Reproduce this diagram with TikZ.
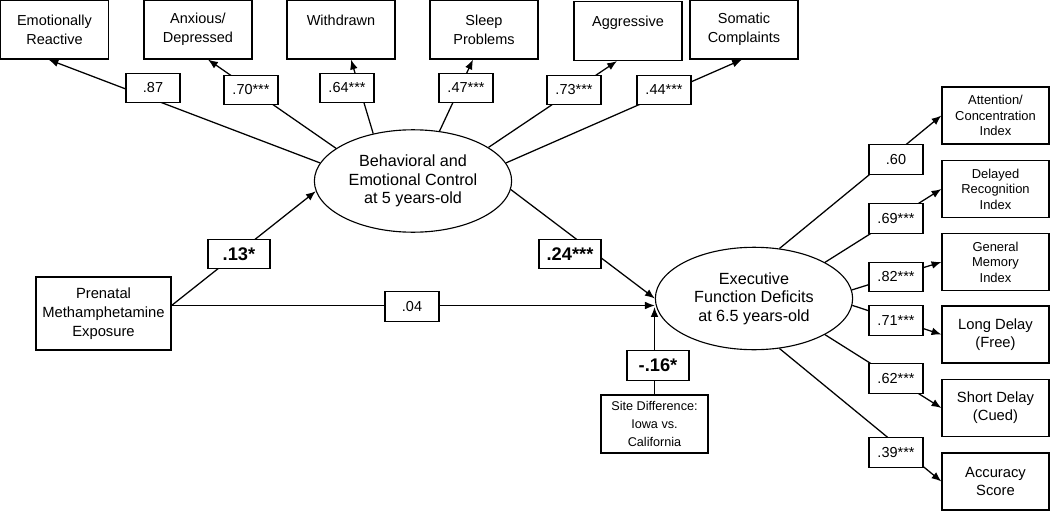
\documentclass[tikz,border=0pt]{standalone}
\usepackage{fontspec}
\setmainfont{Liberation Sans}
\usetikzlibrary{shapes, arrows.meta, calc, positioning}
\tikzstyle{line} = [draw, line width=0.9pt, -{Latex[length=7pt,width=5.5pt]}]

\begin{document}
\begin{tikzpicture}[x=0.025cm, y=-0.025cm,
          inner sep = 0pt, % text fills the box
          align = center
      ]

      \tikzstyle{subscale}=[draw, line width=0.8pt, fill=white,
          minimum width=2.7cm, minimum height=1.475cm,
          font=\fontsize{10.3}{13.3}\selectfont]
      \tikzstyle{measure}=[draw, line width=0.8pt, fill=white,
          minimum width=2.675cm, minimum height=1.425cm]
      \tikzstyle{latent}=[draw, ellipse, line width=0.8pt, fill=white,
          minimum width=4.93cm, minimum height=2.56cm,
          font=\fontsize{11.5}{13.2}\selectfont]
      \tikzstyle{coef}=[draw, line width=0.8pt, fill=white,
          minimum width=1.35cm, minimum height=0.74cm,
          font=\fontsize{10.3}{12}\selectfont]
      \tikzstyle{bcoef}=[coef, minimum width=1.55cm,
          font=\fontsize{13}{15}\selectfont\bfseries]

  \useasboundingbox (0,0) rectangle (1050,512);

  % Draw the subscales on top.
  \node[subscale] (er) at (54.5, 29.5) {Emotionally\\Reactive};
  \node[subscale] (ad) at (198, 29.5) {Anxious/\\Depressed};
  \node[subscale] (wd) at (341, 29.5) {Withdrawn\\\mbox{}};
  \node[subscale] (sp) at (484, 29.5) {Sleep\\Problems};
  \node[subscale] (ag) at (628, 31) {Aggressive\\\mbox{}};
  \node[subscale] (sc) at (744, 29.5) {Somatic\\Complaints};

  % Draw the latent variables.
  \node[latent] (bec) at (413, 181) {Behavioral and\\Emotional Control\\at 5 years-old};
  \node[latent] (efd) at (754, 298.5) {Executive\\Function Deficits\\at 6.5 years-old};

  \node[draw, line width=0.8pt, minimum width=3.375cm, minimum height=1.825cm,
        font=\fontsize{10.5}{13.6}\selectfont] (pme) at (103.5, 313.5)
        {Prenatal\\Methamphetamine\\Exposure};
  \node[draw, line width=0.8pt, minimum width=2.675cm, minimum height=1.45cm,
        font=\fontsize{9}{12.6}\selectfont] (site) at (654.5, 424)
        {Site Difference:\\Iowa vs.\\California};

  % Draw the memory measures on the right.
  \node[measure, font=\fontsize{9.2}{11}\selectfont] (ac) at (995.5, 115.5) {Attention/\\Concentration\\Index};
  \node[measure, font=\fontsize{9.2}{11}\selectfont] (dr) at (995.5, 189) {Delayed\\Recognition\\Index};
  \node[measure, font=\fontsize{9.2}{11}\selectfont] (gm) at (995.5, 262) {General\\Memory\\Index};
  \node[measure, font=\fontsize{10.5}{13}\selectfont] (ld) at (995.5, 334.5) {Long Delay\\(Free)};
  \node[measure, font=\fontsize{10.5}{13}\selectfont] (sdc) at (995.5, 408) {Short Delay\\(Cued)};
  \node[measure, font=\fontsize{10.5}{13}\selectfont] (acc) at (995.5, 481.5) {Accuracy\\Score};

  \coordinate (pmeout) at ($(pme.east)+(0,-8)$);

  % Connect vertices with edges
  \path[line] (bec.169) -- ($(er.south)+(-6,0)$);
  \path[line] (bec.157) -- ($(ad.south)+(10,0)$);
  \path[line] (bec.130) -- ($(wd.south)+(10,0)$);
  \path[line] (bec.62) -- ($(sp.south)+(-11,0)$);
  \path[line] (bec.24) -- ($(ag.south)+(-11,0)$);
  \path[line] (bec.11) -- ($(sc.south)+(-2,0)$);

  \path[line] (pmeout) -- (bec.186);
  \path[line] (pmeout) -- (pmeout -| efd.west);
  \path[line] (bec.-5) -- (efd.west);
  \path[line] (site.north) -- (site.north |- efd.185);

  \path[line] (efd.63) -- (ac.west);
  \path[line] (efd.27) -- (dr.west);
  \path[line] (efd.5) -- (gm.west);
  \path[line] (efd.-4) -- (ld.west);
  \path[line] (efd.-27) -- (sdc.west);
  \path[line] (efd.-63) -- (acc.west);

  % Draw the weights
  \node[coef] (w1) at (153, 88) {.87};
  \node[coef] (w2) at (251, 90) {.70***};
  \node[coef] (w3) at (347, 88) {.64***};
  \node[coef] (w4) at (466, 88) {.47***};
  \node[coef] (w5) at (574, 90) {.73***};
  \node[coef] (w6) at (664, 90) {.44***};

  \node[bcoef] (b1) at (239, 254) {.13*};
  \node[bcoef] (b2) at (570, 254) {.24***};
  \node[coef] (b3) at (412, 306.5) {.04};
  \node[bcoef] (b4) at (658, 365.5) {-.16*};

  \node[coef] (m1) at (896, 159.5) {.60};
  \node[coef] (m2) at (896, 218.5) {.69***};
  \node[coef] (m3) at (896, 277) {.82***};
  \node[coef] (m4) at (896, 320.5) {.71***};
  \node[coef] (m5) at (896, 378.5) {.62***};
  \node[coef] (m6) at (896, 452.5) {.39***};
\end{tikzpicture}
\end{document}
